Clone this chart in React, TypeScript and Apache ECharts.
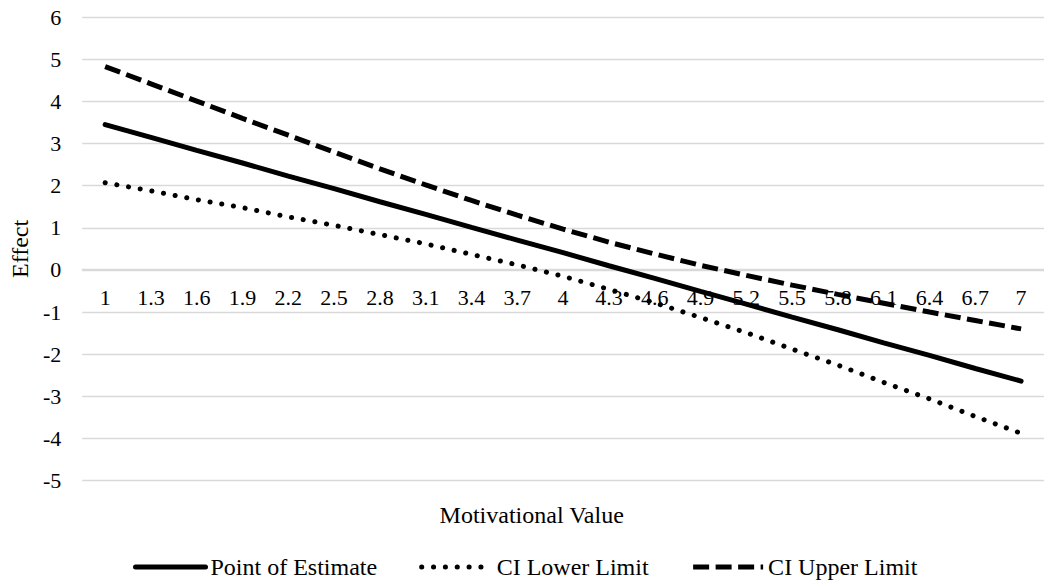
import React, { useEffect, useRef } from "react";
import * as echarts from "echarts";

const categories = ["1", "1.3", "1.6", "1.9", "2.2", "2.5", "2.8", "3.1", "3.4", "3.7", "4", "4.3", "4.6", "4.9", "5.2", "5.5", "5.8", "6.1", "6.4", "6.7", "7"];
const pointEstimate = [3.45, 3.15, 2.84, 2.54, 2.23, 1.93, 1.62, 1.32, 1.01, 0.71, 0.41, 0.10, -0.20, -0.51, -0.81, -1.12, -1.42, -1.73, -2.03, -2.34, -2.64];
const ciLower = [2.07, 1.88, 1.67, 1.48, 1.26, 1.06, 0.84, 0.62, 0.37, 0.12, -0.15, -0.46, -0.78, -1.13, -1.49, -1.88, -2.26, -2.67, -3.06, -3.48, -3.88];
const ciUpper = [4.83, 4.42, 4.01, 3.60, 3.20, 2.80, 2.40, 2.02, 1.65, 1.30, 0.97, 0.66, 0.38, 0.11, -0.13, -0.36, -0.58, -0.79, -1.00, -1.20, -1.40];
const seriesNames = ["Point of Estimate", "CI Lower Limit", "CI Upper Limit"];
const yTicks = { min: -5, max: 6, interval: 1 };

const FONT = "Liberation Serif, Times New Roman, Times, DejaVu Serif, serif";

export default function App() {
  const ref = useRef<HTMLDivElement>(null);
  useEffect(() => {
    if (!ref.current) return;
    const chart = echarts.init(ref.current, null, { renderer: "svg" });
    chart.setOption({
      animation: false,
      backgroundColor: "#ffffff",
      textStyle: { fontFamily: FONT, color: "#000" },
      grid: { left: 76, right: 0, top: 17.3, bottom: 100.5, containLabel: false },
      xAxis: {
        type: "category",
        data: categories,
        boundaryGap: true,
        position: "bottom",
        offset: -211,
        axisLine: { show: true, onZero: false, lineStyle: { color: "#d9d9d9", width: 1.3 } },
        axisTick: { show: false },
        axisLabel: { interval: 0, fontSize: 22, fontFamily: FONT, color: "#000", margin: 17 },
        splitLine: { show: false },
      },
      yAxis: {
        type: "value",
        min: yTicks.min,
        max: yTicks.max,
        interval: yTicks.interval,
        name: "Effect",
        nameLocation: "middle",
        nameGap: 40,
        nameTextStyle: { fontSize: 24, fontFamily: FONT, color: "#000" },
        axisLine: { show: false },
        axisTick: { show: false },
        axisLabel: { fontSize: 22, fontFamily: FONT, color: "#000", margin: 21 },
        splitLine: { show: true, lineStyle: { color: "#d9d9d9", width: 1.3 } },
      },
      legend: {
        data: seriesNames,
        bottom: 2,
        left: 133,
        padding: 0,
        itemWidth: 70,
        itemHeight: 14,
        itemGap: 42,
        itemStyle: { opacity: 0 },
        lineStyle: { width: 5 },
        textStyle: { fontSize: 24, fontFamily: FONT, color: "#000" },
      },
      graphic: [
        {
          type: "text",
          x: 531.7,
          y: 515,
          style: {
            text: "Motivational Value",
            fontSize: 24,
            fontFamily: FONT,
            fill: "#000",
            align: "center",
            verticalAlign: "middle",
          },
        },
      ],
      series: [
        {
          name: seriesNames[0],
          type: "line",
          data: pointEstimate,
          symbol: "none",
          lineStyle: { color: "#000", width: 5, type: "solid", cap: "round" },
          itemStyle: { color: "#000" },
        },
        {
          name: seriesNames[1],
          type: "line",
          data: ciLower,
          symbol: "none",
          lineStyle: { color: "#000", width: 5, type: [0.1, 11.75], cap: "round" },
          itemStyle: { color: "#000" },
        },
        {
          name: seriesNames[2],
          type: "line",
          data: ciUpper,
          symbol: "none",
          lineStyle: { color: "#000", width: 5, type: [16, 6.5], cap: "butt" },
          itemStyle: { color: "#000" },
        },
      ],
    });
    return () => chart.dispose();
  }, []);
  return (
    <div
      ref={ref}
      style={{ position: "fixed", left: 0, top: 0, width: 1044, height: 581 }}
    />
  );
}
